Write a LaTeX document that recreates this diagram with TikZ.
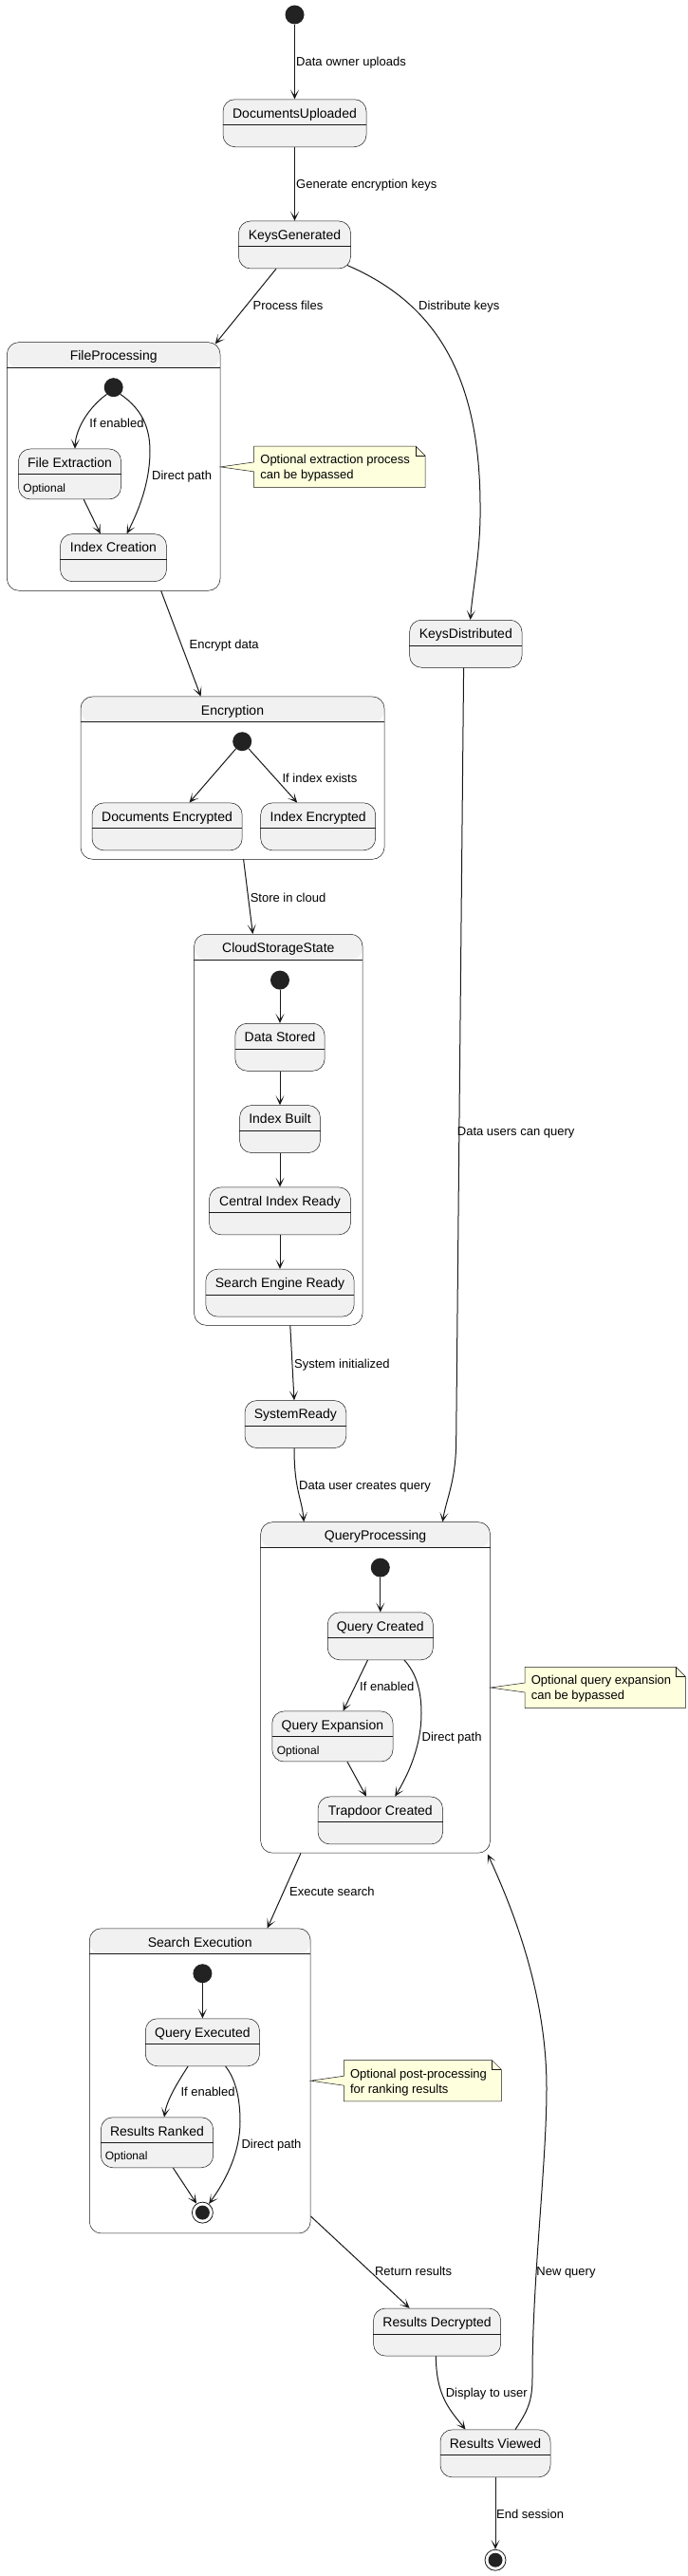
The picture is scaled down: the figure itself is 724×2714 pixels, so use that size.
\documentclass[tikz,border=0pt]{standalone}
\usepackage{fontspec}
\setmainfont{Liberation Sans}
\usetikzlibrary{arrows.meta,calc}
\definecolor{stfill}{HTML}{F1F1F1}
\definecolor{stline}{HTML}{181818}
\definecolor{notefill}{HTML}{FEFFDD}
\definecolor{dotc}{HTML}{222222}
\tikzset{
 stbox/.style={draw=stline, line width=0.5pt, rounded corners=12.5pt, fill=stfill, inner sep=0pt},
 compbox/.style={draw=stline, line width=0.5pt, rounded corners=12.5pt, fill=white, inner sep=0pt},
 divline/.style={draw=stline, line width=0.5pt},
 ttl/.style={font=\fontsize{14}{16}\selectfont, inner sep=0pt, text height=10pt, text depth=0pt},
 subt/.style={font=\fontsize{12}{14}\selectfont, inner sep=0pt, anchor=west, text height=8.6pt, text depth=0pt},
 lbl/.style={font=\fontsize{13}{15}\selectfont, inner sep=0pt, anchor=west, text height=9.4pt, text depth=0pt},
 notetxt/.style={font=\fontsize{13}{16}\selectfont, inner sep=0pt, align=left, anchor=north west},
 notebox/.style={draw=stline, line width=0.5pt, fill=notefill, line join=miter},
 notegeo/.style={inner sep=0pt, anchor=north west},
 tr/.style={draw=stline, line width=1pt, -{Stealth[length=10pt,width=9pt,inset=6pt]}},
 initdot/.style={circle, fill=dotc, minimum size=20pt, inner sep=0pt},
 finaldot/.style={circle, draw=stline, fill=white, line width=0.8pt, minimum size=22pt, inner sep=0pt},
}
\newcommand{\stnode}[6]{%
  \node[stbox, minimum width=#4pt, minimum height=#5pt, anchor=north] (#1) at (#2,#3) {};
  \draw[divline] ([yshift=-27pt]#1.north west) -- ([yshift=-27pt]#1.north east);
  \node[ttl] (#1-t) at ([yshift=-14.5pt]#1.north) {#6};
}
\newcommand{\compnode}[6]{%
  \node[compbox, minimum width=#4pt, minimum height=#5pt, anchor=north,
    path picture={\fill[stfill] (path picture bounding box.north west) rectangle ([yshift=-27pt]path picture bounding box.north east);}] (#1) at (#2,#3) {};
  \draw[divline] ([yshift=-27pt]#1.north west) -- ([yshift=-27pt]#1.north east);
  \node[ttl] (#1-t) at ([yshift=-14.5pt]#1.north) {#6};
}
\newcommand{\notenode}[7]{% name, x, y, w, h, attach node, text
  \node[notegeo, minimum width=#4pt, minimum height=#5pt] (#1) at (#2,#3) {};
  \filldraw[notebox] (#1.north west) -- ([xshift=-10pt]#1.north east) -- ([yshift=-10pt]#1.north east)
     -- (#1.south east) -- (#1.south west) -- ([yshift=-5pt]#1.west) -- (#6.east |- #1.west)
     -- ([yshift=5pt]#1.west) -- cycle;
  \draw[notebox, fill=none] ([xshift=-10pt]#1.north east) -- ([xshift=-10pt,yshift=-10pt]#1.north east) -- ([yshift=-10pt]#1.north east);
  \node[notetxt] (#1-t) at ([xshift=6.5pt,yshift=-9pt]#1.north west) {#7};
}
\begin{document}
\begin{tikzpicture}[x=1pt,y=-1pt]
\useasboundingbox (0,0) rectangle (724,2714);
\fill[white] (0,0) rectangle (724,2714);

% ---------- top part
\node[initdot] (s0) at (310.5,15.5) {};
\stnode{DU}{310.5}{104.5}{151}{50}{DocumentsUploaded}
\stnode{KG}{310.5}{232.7}{118}{50}{KeysGenerated}

% ---------- FileProcessing
\compnode{FP}{119.7}{360.4}{224.6}{261.6}{FileProcessing}
\node[initdot] (fps) at (119.7,408.2) {};
\stnode{FE}{73.5}{472.7}{108}{53}{File Extraction}
\node[subt] (FE-o) at ([xshift=5pt,yshift=-41pt]FE.north west) {Optional};
\stnode{IC}{119.5}{562.4}{112}{50}{Index Creation}
\notenode{n1}{267.7}{470.2}{180.1}{43}{FP}{Optional extraction process\\can be bypassed}

\stnode{KD}{490.8}{653}{118.4}{50}{KeysDistributed}

% ---------- Encryption
\compnode{ENC}{245}{733.7}{320}{171.3}{Encryption}
\node[initdot] (es) at (255.2,781.2) {};
\stnode{DE}{176.1}{845.6}{158.2}{50}{Documents Encrypted}
\stnode{IE}{335.2}{845.6}{121}{50}{Index Encrypted}

% ---------- CloudStorageState
\compnode{CSS}{293.3}{984}{177.4}{412}{CloudStorageState}
\node[initdot] (cs) at (295,1032.6) {};
\stnode{DS}{295}{1078}{94.2}{50}{Data Stored}
\stnode{IB}{295}{1164.3}{84.8}{50}{Index Built}
\stnode{CIR}{295}{1250.6}{149}{50}{Central Index Ready}
\stnode{SER}{295}{1336.9}{156.3}{50}{Search Engine Ready}

\stnode{SR}{311.4}{1475.3}{106.7}{50}{SystemReady}

% ---------- QueryProcessing
\compnode{QP}{395.6}{1603.4}{241.8}{348.5}{QueryProcessing}
\node[initdot] (qs) at (400.8,1651.6) {};
\stnode{QC}{400.8}{1698.5}{111}{50}{Query Created}
\stnode{QE}{350.4}{1802.7}{127.2}{53}{Query Expansion}
\node[subt] (QE-o) at ([xshift=5pt,yshift=-41pt]QE.north west) {Optional};
\stnode{TC}{400.8}{1892.7}{131.4}{50}{Trapdoor Created}
\notenode{n2}{553.1}{1756.3}{168.9}{43}{QP}{Optional query expansion\\can be bypassed}

% ---------- Search Execution
\compnode{SE}{210.7}{2031.5}{232.9}{321.2}{Search Execution}
\node[initdot] (ss) at (213.4,2079.2) {};
\stnode{QX}{213.4}{2126.5}{120.2}{50}{Query Executed}
\stnode{RR}{165.5}{2230.5}{118.3}{53}{Results Ranked}
\node[subt] (RR-o) at ([xshift=4.5pt,yshift=-41pt]RR.north west) {Optional};
\node[finaldot] (sef) at (213.4,2331.1) {};
\fill[dotc] (sef.center) circle (7.5pt);
\notenode{n3}{362.4}{2170.5}{165.6}{43}{SE}{Optional post-processing\\for ranking results}

\stnode{RD}{460.6}{2431.8}{134.1}{50}{Results Decrypted}
\stnode{RV}{522}{2559.6}{116}{50}{Results Viewed}
\node[finaldot] (fin) at (522,2697.2) {};
\fill[dotc] (fin.center) circle (7.5pt);

% ---------- transitions (top level)
\draw[tr] (s0) -- (DU);
\draw[tr] (DU) -- (KG);
\draw[tr] ([xshift=-19.5pt]KG.south) -- ([xshift=-5.5pt,yshift=-2pt]FP.north east);
\draw[tr] ([xshift=-3.6pt,yshift=3.6pt]KG.south east) .. controls (455,318) and (505,390) .. (506,530)
      .. controls (507,580) and (498,620) .. ([xshift=4.8pt]KD.north);
\draw[tr] ([xshift=50pt]FP.south) -- ([xshift=-33.4pt]ENC.north);
\draw[tr] ([xshift=11.6pt]ENC.south) -- ([xshift=-26.9pt]CSS.north);
\draw[tr] ([xshift=12.5pt]CSS.south) -- ([xshift=-1.4pt]SR.north);
\draw[tr] ([xshift=-1.4pt]SR.south) .. controls (310,1570) and (318,1578) .. ([xshift=-75.4pt]QP.north);
\draw[tr] ([xshift=-2.2pt]KD.south) -- (480.7,1517) .. controls (480.7,1560) and (470,1580) .. ([xshift=70.8pt]QP.north);
\draw[tr] ([xshift=-78.6pt]QP.south) -- ([xshift=71pt]SE.north);
\draw[tr] ([yshift=18.3pt]SE.south east) -- ([xshift=-29pt]RD.north);
\draw[tr] ([xshift=-1.2pt]RD.south) .. controls (459.4,2525) and (475,2540) .. ([xshift=-31.5pt]RV.north);
\draw[tr] ([xshift=21pt]RV.north) .. controls (556,2540) and (561,2530) .. (561,2505)
      .. controls (561,2400) and (576,2280) .. (576,2200)
      .. controls (576,2100) and (540,2010) .. ([xshift=-3pt,yshift=-1pt]QP.south east);
\draw[tr] (RV) -- (fin);

% ---------- inner transitions
\draw[tr] (fps.south west) .. controls (95,428) and (80,450) .. ([xshift=5.4pt]FE.north);
\draw[tr] (fps.south east) .. controls (145,428) and (158,445) .. (158,475)
      .. controls (158,510) and (145,540) .. ([xshift=14.1pt]IC.north);
\draw[tr] ([xshift=14.7pt]FE.south) -- ([xshift=-13.7pt]IC.north);

\draw[tr] (es) -- ([xshift=23.4pt]DE.north);
\draw[tr] (es) -- ([xshift=-22pt]IE.north);

\draw[tr] (cs) -- (DS);
\draw[tr] (DS) -- (IB);
\draw[tr] (IB) -- (CIR);
\draw[tr] (CIR) -- (SER);

\draw[tr] (qs) -- (QC);
\draw[tr] ([xshift=-13.3pt]QC.south) -- ([xshift=11.1pt]QE.north);
\draw[tr] ([xshift=25.2pt]QC.south) .. controls (438,1762) and (444,1780) .. (444,1805)
      .. controls (444,1840) and (430,1870) .. ([xshift=15.4pt]TC.north);
\draw[tr] ([xshift=15.6pt]QE.south) -- ([xshift=-14.8pt]TC.north);

\draw[tr] (ss) -- (QX);
\draw[tr] ([xshift=-15.3pt]QX.south) .. controls (186,2196) and (176,2212) .. ([xshift=7.5pt]RR.north);
\draw[tr] ([xshift=24.2pt]QX.south) .. controls (248,2190) and (253,2210) .. (253,2235)
      .. controls (253,2270) and (236,2300) .. (sef);
\draw[tr] ([xshift=16.9pt]RR.south) -- (sef);

% ---------- labels
\node[lbl] (l1) at (312,65.3) {Data owner uploads};
\node[lbl] (l2) at (312,193.5) {Generate encryption keys};
\node[lbl] (l3) at (266.4,321.6) {Process files};
\node[lbl] (l4) at (441,321.6) {Distribute keys};
\node[lbl] (l5) at (94.2,446) {If enabled};
\node[lbl] (l6) at (160,500.4) {Direct path};
\node[lbl] (l7) at (199.5,678.4) {Encrypt data};
\node[lbl] (l8) at (297.4,819.5) {If index exists};
\node[lbl] (l9) at (263.6,945.3) {Store in cloud};
\node[lbl] (l10) at (481.7,1191.6) {Data users can query};
\node[lbl] (l11) at (310,1436.3) {System initialized};
\node[lbl] (l12) at (315,1564.4) {Data user creates query};
\node[lbl] (l13) at (379,1776.5) {If enabled};
\node[lbl] (l14) at (444.5,1830) {Direct path};
\node[lbl] (l15) at (304.9,1992.6) {Execute search};
\node[lbl] (l16) at (190.3,2204.2) {If enabled};
\node[lbl] (l17) at (254.3,2258.6) {Direct path};
\node[lbl] (l18) at (394.9,2392.5) {Return results};
\node[lbl] (l19) at (565.2,2392.5) {New query};
\node[lbl] (l20) at (469.6,2520.3) {Display to user};
\node[lbl] (l21) at (523,2648.5) {End session};
\end{tikzpicture}
\end{document}
